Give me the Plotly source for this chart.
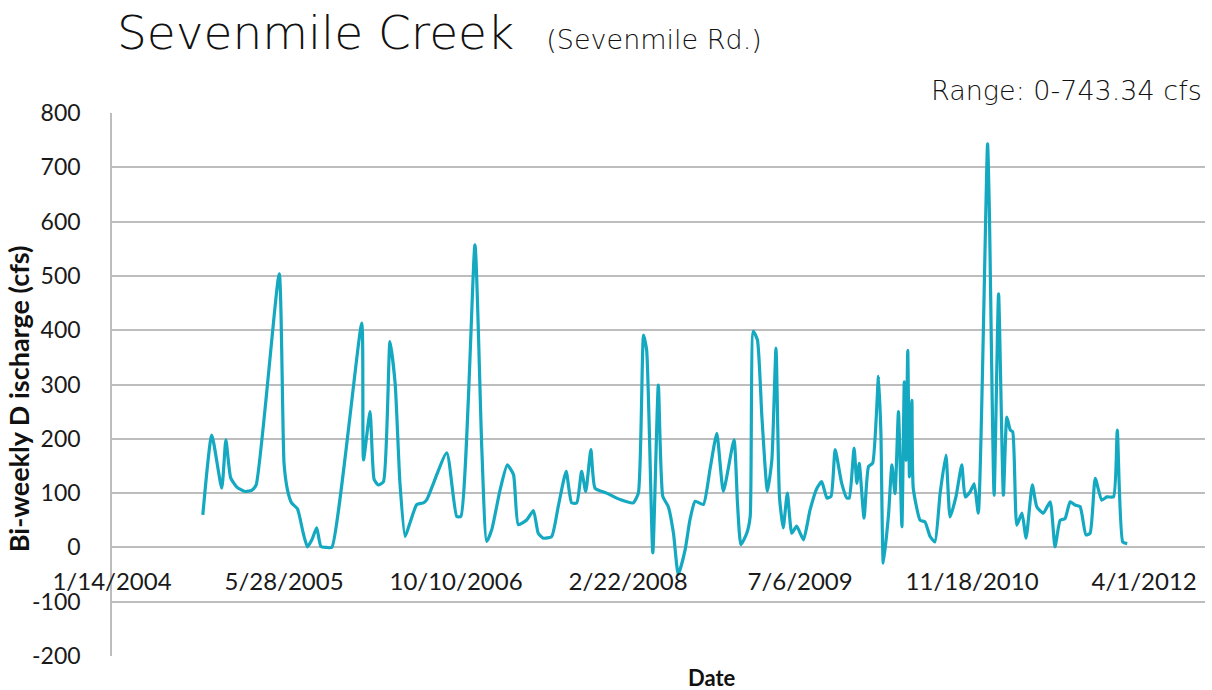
import pandas as pd
import plotly.graph_objects as go

# Excel date serials (days) and bi-weekly discharge (cfs)
date_serial = [
    38264, 38290, 38319, 38331, 38345, 38363, 38387, 38406, 38419, 38486,
    38500, 38510, 38522, 38539, 38556, 38568, 38581, 38595, 38607, 38624,
    38639, 38726, 38731, 38750, 38762, 38774, 38789, 38808, 38823, 38837,
    38852, 38866, 38886, 38905, 38915, 38973, 39002, 39014, 39055, 39075,
    39089, 39104, 39128, 39149, 39167, 39181, 39206, 39225, 39239, 39254,
    39278, 39297, 39320, 39336, 39351, 39365, 39377, 39392, 39404, 39438,
    39477, 39515, 39530, 39545, 39554, 39572, 39588, 39601, 39617, 39632,
    39646, 39666, 39680, 39695, 39719, 39738, 39758, 39777, 39808, 39818,
    39828, 39845, 39855, 39864, 39876, 39889, 39905, 39918, 39930, 39940,
    39951, 39963, 39976, 39990, 40010, 40029, 40049, 40063, 40078, 40090,
    40102, 40121, 40136, 40143, 40157, 40165, 40172, 40186, 40199, 40211,
    40228, 40235, 40242, 40257, 40267, 40276, 40286, 40296, 40303, 40308,
    40313, 40318, 40325, 40329, 40349, 40363, 40378, 40392, 40407, 40424,
    40436, 40453, 40470, 40480, 40494, 40506, 40518, 40545, 40550, 40564,
    40577, 40591, 40601, 40611, 40618, 40630, 40645, 40657, 40675, 40688,
    40707, 40727, 40741, 40756, 40770, 40785, 40799, 40814, 40831, 40843,
    40858, 40877, 40892, 40911, 40922, 40938, 40951,
]
discharge = [
    60, 207, 109, 198, 128, 111, 103, 105, 115, 504,
    155, 106, 82, 71, 26, 1, 14, 36, 2, 0,
    0, 413, 161, 250, 125, 115, 121, 379, 302, 118,
    20, 45, 79, 82, 88, 174, 57, 57, 557, 180,
    11, 33, 106, 152, 134, 42, 51, 68, 26, 17,
    20, 75, 140, 82, 82, 140, 103, 180, 109, 100,
    88, 82, 100, 391, 364, -10, 299, 94, 75, 26,
    -50, -4, 51, 85, 79, 143, 210, 103, 198, 82,
    5, 26, 57, 398, 382, 241, 103, 161, 367, 94,
    36, 100, 26, 39, 14, 69, 109, 121, 91, 94,
    180, 118, 91, 91, 183, 118, 155, 54, 149, 155,
    315, 210, -29, 60, 152, 99, 250, 38, 305, 160,
    363, 130, 271, 109, 50, 47, 20, 10, 99, 170,
    56, 93, 152, 93, 102, 117, 63, 743.34, 627, 96,
    467, 96, 240, 216, 213, 41, 63, 17, 115, 75,
    63, 84, 1, 50, 53, 84, 78, 75, 23, 26,
    127, 87, 93, 93, 216, 10, 7,
]

tick_dates = ["2004-01-14", "2005-05-28", "2006-10-10", "2008-02-22",
              "2009-07-06", "2010-11-18", "2012-04-01"]
tick_labels = ["1/14/2004", "5/28/2005", "10/10/2006", "2/22/2008",
               "7/6/2009", "11/18/2010", "4/1/2012"]
x_range = ["2004-01-14", "2012-09-25"]
y_ticks = [-200, -100, 0, 100, 200, 300, 400, 500, 600, 700, 800]
y_labels = ["-200", "-100", "0", "100", "200", "300", "400", "500", "600", "700", "800"]

dates = pd.to_datetime(pd.Series(date_serial), unit="D", origin="1899-12-30")

TITLE_FONT = "DejaVu Sans"
AXIS_FONT = "Lato"
GRID = "#bdbdbd"

fig = go.Figure()
fig.add_trace(
    go.Scatter(
        x=dates,
        y=discharge,
        mode="lines",
        line=dict(color="#14a9c1", width=3.2, shape="spline", smoothing=0.5),
        showlegend=False,
    )
)

fig.update_xaxes(
    type="date",
    range=x_range,
    tickvals=tick_dates,
    ticktext=tick_labels,
    showgrid=False,
    showline=False,
    zeroline=False,
    anchor="free",
    position=0.2,
    ticks="",
    ticklabelstandoff=18,
    automargin=False,
    tickfont=dict(family=AXIS_FONT, size=24, color="#1a1a1a"),
)
fig.update_yaxes(
    range=[-200, 800],
    tickvals=y_ticks,
    ticktext=y_labels,
    showgrid=True,
    gridcolor=GRID,
    gridwidth=1.5,
    zeroline=False,
    showline=True,
    linecolor=GRID,
    linewidth=1.5,
    ticks="",
    ticklabelstandoff=25,
    automargin=False,
    tickfont=dict(family=AXIS_FONT, size=23, color="#1a1a1a"),
)

fig.add_annotation(
    xref="paper", yref="paper", x=0.003, y=1.149, xanchor="left", yanchor="middle",
    text="Sevenmile Creek <span style='font-size:27px'>  (Sevenmile Rd.)</span>",
    showarrow=False, font=dict(family=TITLE_FONT, size=47, color="#111", weight=200),
)
fig.add_annotation(
    xref="paper", yref="paper", x=0.999, y=1.042, xanchor="right", yanchor="middle",
    text="Range: 0-743.34 cfs", showarrow=False,
    font=dict(family=TITLE_FONT, size=27, color="#111", weight=200),
)
fig.add_annotation(
    xref="paper", yref="paper", x=-0.086, y=0.473, textangle=-90,
    xanchor="center", yanchor="middle",
    text="<b>Bi-weekly D ischarge (cfs)</b>", showarrow=False,
    font=dict(family=AXIS_FONT, size=27, color="#111"),
)
fig.add_annotation(
    xref="paper", yref="paper", x=0.549, y=-0.039, xanchor="center", yanchor="middle",
    text="<b>Date</b>", showarrow=False,
    font=dict(family=AXIS_FONT, size=22, color="#111"),
)

fig.update_layout(
    width=1212,
    height=690,
    margin=dict(l=112, r=7, t=113, b=34),
    paper_bgcolor="white",
    plot_bgcolor="white",
)

# drop the default 8px body margin so the figure fills the window exactly
fig.write_html(
    "out.html",
    config={"displayModeBar": False},
    post_script="document.body.style.margin = '0';",
)
